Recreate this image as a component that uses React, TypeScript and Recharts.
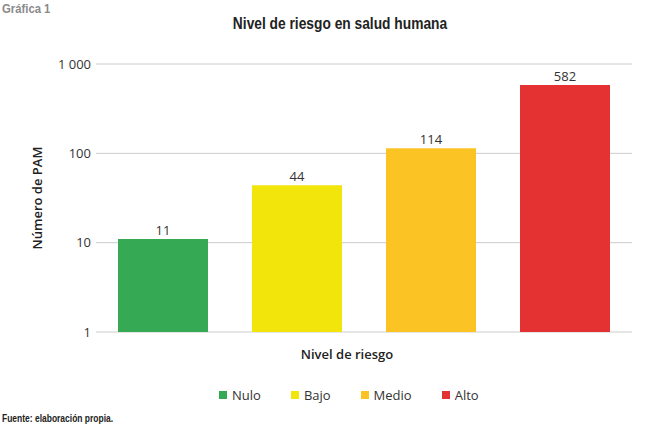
import React from 'react';
import { BarChart, Bar, Cell, XAxis, YAxis, CartesianGrid, LabelList } from 'recharts';

const categories = ['Nulo', 'Bajo', 'Medio', 'Alto'];
const values = [11, 44, 114, 582];
const colors = ['#36a955', '#f2e50b', '#fcc325', '#e43131'];
const yTicks = [1, 10, 100, 1000];

const data = categories.map((name, i) => ({ name, value: values[i] }));

const bodyFont = '"Open Sans", "Noto Sans", sans-serif';
const narrowFont = '"Liberation Sans", Arial, sans-serif';

const formatTick = (v: number) => (v >= 1000 ? v.toLocaleString('en-US').replace(/,/g, ' ') : String(v));

// texto "condensado" a mano: no hay fuente estrecha instalada
const Narrow = ({ left, top, size, scale, color, children, center }: any) => (
  <div
    style={{
      position: 'absolute', left, top, whiteSpace: 'nowrap', fontFamily: narrowFont, fontWeight: 700,
      fontSize: size, color, transform: center ? `translateX(-50%) scaleX(${scale})` : `scaleX(${scale})`,
      transformOrigin: center ? 'center top' : 'left top',
    }}
  >
    {children}
  </div>
);

export default function App() {
  return (
    <div style={{ position: 'absolute', left: 0, top: 0, width: 650, height: 428, background: '#fff' }}>
      <Narrow left={2} top={1} size={13} scale={0.87} color="#8a8a8a">Gráfica 1</Narrow>
      <Narrow left={340} top={14} size={17} scale={0.81} color="#222" center>Nivel de riesgo en salud humana</Narrow>
      <Narrow left={2} top={412} size={11} scale={0.77} color="#222">Fuente: elaboración propia.</Narrow>
      <div
        style={{
          position: 'absolute', left: 37, top: 198, transform: 'translate(-50%, -50%) rotate(-90deg)',
          whiteSpace: 'nowrap', fontFamily: bodyFont, fontWeight: 600, fontSize: 13, color: '#222',
        }}
      >
        Número de PAM
      </div>
      <div style={{ position: 'absolute', left: 0, width: 694, top: 345, textAlign: 'center', fontFamily: bodyFont, fontWeight: 600, fontSize: 13, color: '#222' }}>
        Nivel de riesgo
      </div>
      <div style={{ position: 'absolute', left: 219, top: 386, display: 'flex', gap: 30, fontFamily: bodyFont, fontSize: 13, color: '#333' }}>
        {categories.map((c, i) => (
          <div key={c} style={{ display: 'flex', alignItems: 'center' }}>
            <span style={{ width: 8, height: 8, background: colors[i], display: 'inline-block', marginRight: 5 }} />
            <span>{c}</span>
          </div>
        ))}
      </div>
      <BarChart width={650} height={428} data={data} margin={{ top: 64, right: 18, bottom: 96, left: 0 }}>
        <CartesianGrid vertical={false} stroke="#cccccc" />
        <XAxis dataKey="name" tick={false} tickLine={false} height={0} axisLine={{ stroke: '#999', strokeWidth: 2 }} />
        <YAxis
          scale="log"
          type="number"
          domain={[1, 1000]}
          ticks={yTicks}
          allowDataOverflow
          width={96}
          axisLine={false}
          tickLine={false}
          tickSize={0}
          tickMargin={5}
          tickFormatter={formatTick}
          tick={{ fill: '#333', fontSize: 13, fontFamily: bodyFont }}
        />
        <Bar dataKey="value" barSize={90} isAnimationActive={false}>
          {data.map((d, i) => (
            <Cell key={d.name} fill={colors[i]} />
          ))}
          <LabelList dataKey="value" position="top" offset={4} fill="#333" fontSize={13} fontFamily={bodyFont} />
        </Bar>
      </BarChart>
    </div>
  );
}
